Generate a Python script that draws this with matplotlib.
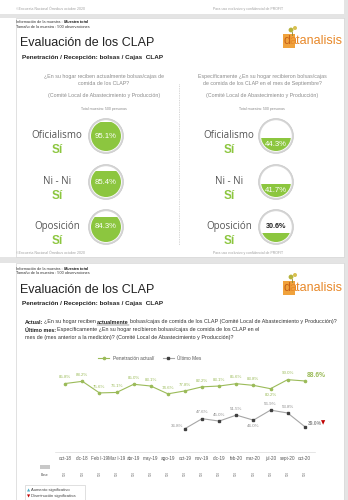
import numpy as np
import matplotlib
matplotlib.use("Agg")
import matplotlib.pyplot as plt
from matplotlib.patches import Circle, Rectangle

plt.rcParams['font.family'] = ['Liberation Sans', 'DejaVu Sans']

# datos del primer panel (recepcion de bolsas CLAP)
grupos = ["Oficialismo", "Ni - Ni", "Oposición"]
actual = [95.1, 85.4, 84.3]
septiembre = [44.3, 41.7, 30.6]

# datos de la serie historica
meses = ["oct-18", "dic-18", "Feb I-19", "Mar I-19", "abr-19", "may-19", "ago-19",
         "oct-19", "nov-19", "dic-19", "feb-20", "mar-20", "jul-20", "sept-20", "oct-20"]
penetracion = [85.8, 88.2, 75.6, 76.1, 85.0, 83.1, 74.6, 77.8, 82.2, 83.1, 85.6, 83.8, 80.2, 90.0, 88.6]
ultimo_mes = [36.8, 47.6, 45.0, 51.5, 46.0, 56.9, 53.8, 39.0]
inicio_ultimo = 7
base = ["500"] * len(meses)

VERDE = "#8cc63f"
OLIVA = "#9bbb59"

fig = plt.figure(figsize=(3.48, 5.0), dpi=100)
bg = fig.add_axes([0, 0, 1, 1])
bg.set_xlim(0, 348)
bg.set_ylim(500, 0)
bg.axis("off")
rend = fig.canvas.get_renderer()


def tramos(x, y, partes, fs):
    # escribe varios trozos seguidos en la misma linea
    for txt, kw in partes:
        opts = {"color": "#333333"}
        opts.update(kw)
        sub = opts.pop("subrayado", False)
        t = bg.text(x, y, txt, fontsize=fs, va="center", **opts)
        w = t.get_window_extent(renderer=rend).width
        if sub:
            bg.plot([x, x + w], [y + 2.6, y + 2.6], color=opts["color"], lw=0.3)
        x += w + 1.0
    return x


# bandas grises entre laminas
bg.add_patch(Rectangle((0, 14), 348, 4, fc="#e4e4e4", ec="none"))
bg.add_patch(Rectangle((0, 257), 348, 6, fc="#e4e4e4", ec="none"))
bg.add_patch(Rectangle((344, 0), 4, 500, fc="#e4e4e4", ec="none"))
bg.add_patch(Rectangle((16, 18), 328, 239, fc="white", ec="#d4d4d4", lw=0.5))
bg.add_patch(Rectangle((16, 263), 328, 240, fc="white", ec="#d4d4d4", lw=0.5))

pie_izq = "©Encuesta Nacional Ómnibus octubre 2020"
pie_der = "Para uso exclusivo y confidencial de PROFIT"
for y in (9, 253):
    bg.text(16, y, pie_izq, fontsize=2.5, color="#a0a0a0", va="center")
    bg.text(213, y, pie_der, fontsize=2.5, color="#a0a0a0", va="center")


def encabezado(y0):
    tramos(16, y0, [("Información de la muestra :", {}),
                    ("Muestra total", {"weight": "bold", "style": "italic", "color": "#111111"})], 2.8)
    bg.text(16, y0 + 4.5, "Tamaño de la muestra : 500 observaciones", fontsize=2.8,
            color="#333333", va="center")
    bg.text(20, y0 + 21, "Evaluación de los CLAP", fontsize=9.0, color="#222222", va="center")
    bg.text(22, y0 + 35, "Penetración / Recepción: bolsas / Cajas  CLAP", fontsize=4.6,
            color="#222222", va="center", weight="bold")
    # logo
    lx, ly = 283, y0 + 19
    bg.add_patch(Rectangle((lx, ly - 7), 12, 14, fc="#f0a23c", ec="none"))
    bg.text(lx + 1.0, ly, "d", fontsize=9, color="#c8641a", va="center")
    bg.text(lx + 6.5, ly, "atanalisis", fontsize=9, color="#e8892a", va="center")
    bg.add_patch(Circle((lx + 8, ly - 11), 2.4, fc="#b5b33c", ec="none"))
    bg.add_patch(Circle((lx + 12, ly - 13), 2.0, fc="#d8c050", ec="none"))
    bg.plot([lx + 9, lx + 9], [ly - 9, ly - 6], color="#8a8a30", lw=0.6)


encabezado(22)
encabezado(269)

# ---- panel 1 ----
preg1 = "¿En su hogar reciben actualmente bolsas/cajas de\ncomida de los CLAP?"
preg2 = "Específicamente ¿En su hogar recibieron bolsas/cajas\nde comida de los CLAP en el mes de Septiembre?"
for cx, txt in ((104, preg1), (262, preg2)):
    bg.text(cx, 80, txt, fontsize=3.8, color="#8a8a8a", ha="center", va="center", linespacing=1.3)
    bg.text(cx, 95, "(Comité Local de Abastecimiento y Producción)", fontsize=3.8,
            color="#8a8a8a", ha="center", va="center")
    bg.text(cx, 109, "Total muestra: 500 personas", fontsize=2.6, color="#8a8a8a",
            ha="center", va="center")
bg.plot([179, 179], [84, 245], color="#b0b0b0", lw=0.5, ls=(0, (1, 1.5)))


def medidor(cx, cy, val):
    bg.add_patch(Circle((cx, cy), 17.5, fc="#d5d5d5", ec="#c4c4c4", lw=0.4))
    bg.add_patch(Circle((cx, cy), 15.8, fc="white", ec="none"))
    r = 15.0
    clip = Circle((cx, cy), r, fc="none", ec="none")
    bg.add_patch(clip)
    h = 2 * r * val / 100
    fill = Rectangle((cx - r, cy + r - h), 2 * r, h, fc=VERDE, ec="none")
    bg.add_patch(fill)
    fill.set_clip_path(clip)
    if val > 60:
        bg.text(cx, cy, f"{val:.1f}%", fontsize=5.6, color="white", ha="center", va="center")
    elif val >= 40:
        bg.text(cx, cy + r - h / 2, f"{val:.1f}%", fontsize=5.6, color="white",
                ha="center", va="center")
    else:
        bg.text(cx, cy, f"{val:.1f}%", fontsize=5.2, color="#222222", ha="center",
                va="center", weight="bold")


filas_y = [136, 182, 227]
for i, g in enumerate(grupos):
    cy = filas_y[i]
    for lx, cx, vals in ((57, 106, actual), (229, 276, septiembre)):
        bg.text(lx, cy - 1, g, fontsize=7, color="#555555", ha="center", va="center",
                family=["Open Sans", "DejaVu Sans"])
        bg.text(lx, cy + 14, "Sí", fontsize=8.5, color=VERDE, ha="center", va="center",
                weight="bold")
        medidor(cx, cy, vals[i])

# ---- panel 2 ----
tramos(25, 322, [("Actual:", {"weight": "bold", "color": "#222222"}),
                 ("¿En su hogar reciben", {}),
                 ("actualmente", {"weight": "bold", "color": "#222222", "subrayado": True}),
                 ("bolsas/cajas de comida de los CLAP (Comité Local de Abastecimiento y Producción)?", {})],
       3.9)
tramos(25, 330, [("Último mes:", {"weight": "bold", "color": "#222222"}),
                 ("Específicamente ¿En su hogar recibieron bolsas/cajas de comida de los CLAP en el", {})],
       3.9)
bg.text(25, 337.5, "mes de (mes anterior a la medición)? (Comité Local de Abastecimiento y Producción)?",
        fontsize=3.9, color="#333333", va="center")

ax = fig.add_axes([55 / 348, 1 - 452 / 500, 260 / 348, 82 / 500])
ax.set_facecolor("none")
x = np.arange(len(meses))
xu = np.arange(inicio_ultimo, inicio_ultimo + len(ultimo_mes))
ax.plot(x, penetracion, color=OLIVA, lw=0.8, marker="o", ms=1.6, label="Penetración actual/")
ax.plot(xu, ultimo_mes, color="#a6a6a6", lw=0.8, marker="s", ms=1.6, mfc="#404040",
        mec="#404040", label="Último Mes")
ax.set_xlim(-0.6, len(meses) - 0.4)
ax.set_ylim(11.4, 100.5)
for s in ("top", "left", "right"):
    ax.spines[s].set_visible(False)
ax.spines["bottom"].set_color("#dcdcdc")
ax.spines["bottom"].set_linewidth(0.5)
ax.set_yticks([])
ax.set_xticks(x)
ax.set_xticklabels(meses, fontsize=3.3, color="#555555")
ax.tick_params(axis="x", length=0, pad=3)

for i, v in enumerate(penetracion):
    if i == len(penetracion) - 1:
        ax.annotate(f"{v:.1f}%", (i, v), xytext=(1.5, 4), textcoords="offset points",
                    fontsize=4.8, color=OLIVA, weight="bold", ha="left", va="center")
    elif v == 80.2:
        ax.annotate(f"{v:.1f}%", (i, v), xytext=(0, -4.5), textcoords="offset points",
                    fontsize=3.2, color=OLIVA, ha="center", va="center")
    else:
        ax.annotate(f"{v:.1f}%", (i, v), xytext=(0, 4.5), textcoords="offset points",
                    fontsize=3.2, color=OLIVA, ha="center", va="center")

for i, v in zip(xu, ultimo_mes):
    if i == xu[0]:
        ax.annotate(f"{v:.1f}%", (i, v), xytext=(-1.5, 2), textcoords="offset points",
                    fontsize=3.2, color="#8c8c8c", ha="right", va="center")
    elif i == xu[-1]:
        ax.annotate(f"{v:.1f}%", (i, v), xytext=(2, 2.5), textcoords="offset points",
                    fontsize=3.6, color="#8c8c8c", ha="left", va="center", weight="bold")
        ax.annotate("▼", (i, v), xytext=(12, 2.5), textcoords="offset points",
                    fontsize=4, color="#c00000", ha="left", va="center",
                    family=["DejaVu Sans"])
    elif v == 46.0:
        ax.annotate(f"{v:.1f}%", (i, v), xytext=(0, -4.5), textcoords="offset points",
                    fontsize=3.2, color="#8c8c8c", ha="center", va="center")
    else:
        ax.annotate(f"{v:.1f}%", (i, v), xytext=(0, 4.5), textcoords="offset points",
                    fontsize=3.2, color="#8c8c8c", ha="center", va="center")

# fila de bases
tr = ax.get_xaxis_transform()
for i, b in enumerate(base):
    ax.text(i, -0.26, b, transform=tr, fontsize=2.2, color="#666666", rotation=90,
            ha="center", va="center", clip_on=False)
bg.add_patch(Rectangle((40, 465), 10, 4, fc="#c8c8c8", ec="none"))
bg.text(45, 475, "Base", fontsize=2.4, color="#555555", ha="center", va="center")

fig.legend(loc="center", bbox_to_anchor=(150 / 348, 1 - 358 / 500), ncol=2, frameon=False,
           fontsize=3.4, handlelength=2.2, columnspacing=2, labelcolor="#555555")

# recuadro de significancia
bg.add_patch(Rectangle((25, 485), 60, 20, fc="white", ec="#c8c8c8", lw=0.4))
bg.text(27, 490, "▲", fontsize=3, color="#4bacc6", va="center", family=["DejaVu Sans"])
bg.text(31, 490, "Aumento significativo", fontsize=3, color="#444444", va="center")
bg.text(27, 496, "▼", fontsize=3, color="#c00000", va="center", family=["DejaVu Sans"])
bg.text(31, 496, "Disminución significativa", fontsize=3, color="#444444", va="center")

fig.savefig("out.png", dpi=100)
